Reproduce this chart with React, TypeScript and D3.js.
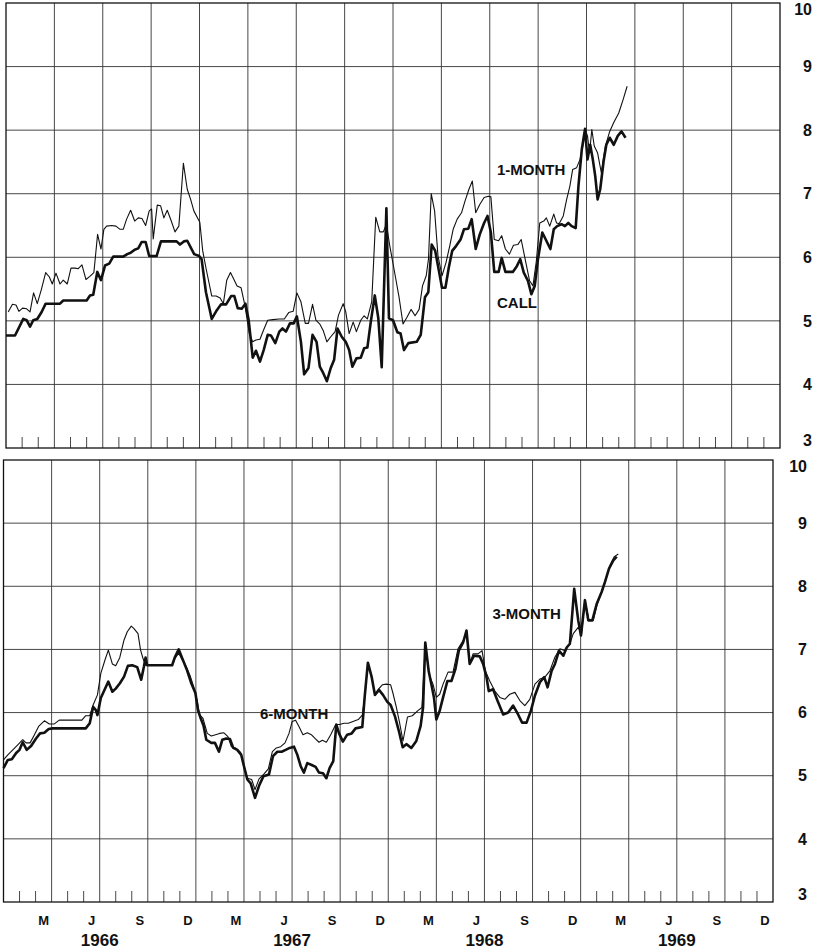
import React from "react";
import * as d3 from "d3";

// x = months since Jan 1966, y = percent
const oneMonth: [number, number][] = [
  [0.14, 5.14], [0.4, 5.26], [0.62, 5.25], [0.8, 5.15], [1.03, 5.2], [1.28, 5.19], [1.49, 5.14], [1.71, 5.44],
  [1.94, 5.27], [2.2, 5.5], [2.46, 5.76], [2.69, 5.69], [2.87, 5.58], [3.1, 5.75], [3.35, 5.58], [3.55, 5.64],
  [3.8, 5.58], [4.03, 5.83], [4.28, 5.83], [4.48, 5.82], [4.71, 5.88], [4.96, 5.65], [5.2, 5.7], [5.45, 5.76],
  [5.68, 6.36], [5.89, 6.13], [6.07, 6.44], [6.24, 6.49], [6.55, 6.5], [6.82, 6.49], [7.07, 6.44], [7.27, 6.44],
  [7.48, 6.6], [7.73, 6.74], [7.98, 6.57], [8.2, 6.62], [8.43, 6.61], [8.66, 6.5], [8.88, 6.73], [9.03, 6.76],
  [9.13, 6.29], [9.38, 6.82], [9.59, 6.81], [9.79, 6.62], [10.0, 6.74], [10.25, 6.57], [10.48, 6.4], [10.72, 6.49],
  [11.0, 7.48], [11.24, 7.07], [11.45, 6.91], [11.65, 6.73], [11.92, 6.6], [12.02, 6.55], [12.2, 6.1], [12.41, 5.82],
  [12.76, 5.39], [13.03, 5.39], [13.28, 5.36], [13.48, 5.27], [13.69, 5.64], [13.92, 5.76], [14.12, 5.66], [14.33, 5.55],
  [14.58, 5.52], [14.82, 5.24], [15.09, 4.8], [15.3, 4.67], [15.5, 4.7], [15.75, 4.71], [15.98, 4.86], [16.23, 5.01],
  [16.54, 5.02], [16.95, 5.03], [17.26, 5.03], [17.53, 5.13], [17.81, 5.15], [18.04, 5.44], [18.29, 5.3], [18.56, 4.96],
  [18.76, 4.96], [19.01, 5.26], [19.22, 5.01], [19.46, 4.95], [19.67, 4.85], [19.9, 4.67], [20.14, 4.75], [20.41, 4.83],
  [20.62, 5.09], [20.91, 5.27], [21.07, 5.14], [21.28, 4.8], [21.53, 4.98], [21.73, 4.83], [22.0, 5.01], [22.21, 5.08],
  [22.41, 5.03], [22.68, 5.3], [22.93, 6.63], [23.18, 6.4], [23.4, 6.4], [23.59, 6.52], [23.8, 6.18], [24.06, 5.82],
  [24.37, 5.38], [24.62, 4.95], [24.85, 5.05], [25.12, 5.18], [25.37, 5.08], [25.62, 5.18], [25.83, 5.55], [26.06, 5.71],
  [26.2, 5.97], [26.37, 7.0], [26.58, 6.73], [26.79, 6.02], [27.04, 5.71], [27.29, 5.92], [27.52, 6.18], [27.73, 6.44],
  [27.98, 6.6], [28.25, 6.7], [28.46, 6.88], [28.71, 7.07], [28.92, 7.2], [29.13, 6.7], [29.38, 6.83], [29.65, 6.94],
  [29.92, 6.96], [30.07, 6.95], [30.28, 6.28], [30.55, 6.26], [30.74, 6.34], [30.97, 6.13], [31.22, 6.05], [31.47, 6.19],
  [31.74, 6.2], [31.95, 6.28], [32.22, 5.94], [32.47, 5.63], [32.68, 5.55], [32.89, 5.94], [33.1, 6.54], [33.35, 6.57],
  [33.51, 6.62], [33.72, 6.49], [33.97, 6.68], [34.14, 6.54], [34.31, 6.53], [34.56, 6.65], [34.77, 6.91], [34.97, 7.12],
  [35.14, 7.38], [35.39, 7.41], [35.6, 7.54], [35.77, 7.75], [35.91, 8.02], [36.06, 7.91], [36.19, 7.64], [36.33, 8.01],
  [36.48, 7.75], [36.69, 7.64], [36.92, 7.33], [37.17, 7.75], [37.44, 7.98], [37.69, 8.12], [38.0, 8.27], [38.27, 8.48],
  [38.52, 8.69],
];

const callRate: [number, number][] = [
  [0, 4.77], [0.56, 4.77], [1.07, 5.03], [1.28, 5.01], [1.49, 4.91], [1.69, 5.01], [1.94, 5.03], [2.21, 5.14],
  [2.46, 5.27], [3.35, 5.27], [3.55, 5.32], [5.0, 5.32], [5.21, 5.4], [5.41, 5.41], [5.66, 5.77], [5.89, 5.64],
  [6.14, 5.87], [6.4, 5.9], [6.65, 6.01], [7.27, 6.01], [7.52, 6.05], [7.73, 6.07], [7.98, 6.12], [8.2, 6.14],
  [8.41, 6.24], [8.66, 6.24], [8.88, 6.02], [9.34, 6.02], [9.61, 6.25], [10.58, 6.25], [10.79, 6.2], [11.03, 6.25],
  [11.24, 6.26], [11.67, 6.05], [11.98, 6.02], [12.13, 5.97], [12.4, 5.45], [12.76, 5.03], [13.03, 5.15], [13.34, 5.26],
  [13.65, 5.26], [13.96, 5.39], [14.16, 5.39], [14.37, 5.2], [14.62, 5.19], [14.85, 5.27], [15.05, 5.01], [15.3, 4.42],
  [15.5, 4.53], [15.75, 4.36], [15.98, 4.54], [16.23, 4.78], [16.43, 4.77], [16.7, 4.65], [16.95, 4.83], [17.15, 4.88],
  [17.36, 4.83], [17.61, 4.96], [17.84, 4.96], [18.04, 5.07], [18.29, 4.67], [18.49, 4.16], [18.76, 4.26], [19.01, 4.78],
  [19.26, 4.67], [19.46, 4.28], [19.67, 4.18], [19.9, 4.05], [20.14, 4.26], [20.35, 4.39], [20.56, 4.88], [20.82, 4.75],
  [21.07, 4.67], [21.28, 4.54], [21.48, 4.28], [21.73, 4.41], [22.0, 4.42], [22.21, 4.57], [22.41, 4.58], [22.62, 4.98],
  [22.87, 5.4], [23.09, 5.04], [23.3, 4.27], [23.59, 6.77], [23.75, 5.04], [24.0, 5.01], [24.27, 4.82], [24.47, 4.8],
  [24.68, 4.54], [24.95, 4.65], [25.47, 4.67], [25.72, 4.78], [25.98, 5.37], [26.19, 5.45], [26.4, 6.2], [26.62, 6.1],
  [26.83, 5.81], [27.04, 5.52], [27.25, 5.52], [27.46, 5.84], [27.67, 6.1], [27.92, 6.18], [28.19, 6.28], [28.4, 6.44],
  [28.67, 6.45], [28.88, 6.6], [29.13, 6.13], [29.38, 6.36], [29.65, 6.54], [29.86, 6.65], [30.07, 6.39], [30.28, 5.77],
  [30.55, 5.77], [30.74, 5.99], [30.97, 5.77], [31.43, 5.77], [31.68, 5.86], [31.89, 5.97], [32.11, 5.76], [32.37, 5.63],
  [32.58, 5.42], [32.79, 5.55], [32.99, 5.97], [33.26, 6.39], [33.51, 6.26], [33.76, 6.13], [33.97, 6.44], [34.18, 6.49],
  [34.45, 6.52], [34.66, 6.49], [34.87, 6.54], [35.08, 6.49], [35.33, 6.46], [35.5, 7.12], [35.71, 7.7], [35.91, 8.02],
  [36.06, 7.54], [36.23, 7.77], [36.39, 7.54], [36.54, 7.28], [36.69, 6.91], [36.85, 7.07], [37.06, 7.51], [37.23, 7.77],
  [37.44, 7.88], [37.69, 7.77], [37.94, 7.91], [38.17, 7.98], [38.42, 7.88],
];

const threeMonth: [number, number][] = [
  [0, 5.25], [0.27, 5.33], [0.58, 5.41], [0.89, 5.49], [1.2, 5.57], [1.41, 5.52], [1.66, 5.52], [1.93, 5.65],
  [2.19, 5.78], [2.55, 5.87], [2.86, 5.82], [3.17, 5.82], [3.48, 5.88], [4.89, 5.88], [5.13, 5.95], [5.38, 5.95],
  [5.59, 6.12], [5.86, 6.28], [6.07, 6.62], [6.34, 6.84], [6.54, 6.99], [6.79, 6.77], [7.0, 6.74], [7.25, 6.87],
  [7.52, 7.15], [7.72, 7.28], [7.97, 7.37], [8.14, 7.33], [8.39, 7.25], [8.55, 6.99], [8.7, 6.86], [8.86, 6.75],
  [10.52, 6.75], [10.72, 6.87], [10.93, 6.94], [11.14, 6.84], [11.39, 6.73], [11.66, 6.57], [11.86, 6.41], [12.07, 6.2],
  [12.24, 5.96], [12.44, 5.91], [12.71, 5.67], [12.96, 5.63], [13.23, 5.65], [13.48, 5.67], [13.75, 5.68], [14.0, 5.62],
  [14.21, 5.46], [14.48, 5.44], [14.79, 5.37], [15.0, 5.15], [15.21, 4.96], [15.48, 4.94], [15.69, 4.78], [15.94, 4.95],
  [16.25, 5.03], [16.52, 5.11], [16.77, 5.38], [17.02, 5.44], [17.29, 5.46], [17.56, 5.52], [17.81, 5.67], [18.01, 5.86],
  [18.22, 5.88], [18.43, 5.78], [18.68, 5.65], [18.95, 5.68], [19.2, 5.65], [19.43, 5.59], [19.68, 5.53], [19.89, 5.56],
  [20.14, 5.53], [20.41, 5.65], [20.72, 5.81], [20.97, 5.81], [21.24, 5.83], [21.51, 5.83], [21.8, 5.86], [22.13, 5.89],
  [22.38, 5.96], [22.55, 6.28], [22.73, 6.79], [22.96, 6.57], [23.17, 6.28], [23.42, 6.38], [23.63, 6.44], [23.88, 6.45],
  [24.15, 6.44], [24.29, 6.31], [24.5, 6.09], [24.7, 5.85], [24.92, 5.55], [25.2, 5.93], [25.5, 5.95], [25.85, 6.03],
  [26.1, 6.08], [26.31, 7.06], [26.58, 6.58], [26.79, 6.45], [27.0, 6.24], [27.21, 6.29], [27.42, 6.45], [27.73, 6.64],
  [28.04, 6.64], [28.35, 7.01], [28.67, 7.14], [28.88, 7.25], [29.08, 6.77], [29.29, 6.93], [29.6, 6.93], [29.85, 6.98],
  [30.06, 6.66], [30.33, 6.5], [30.65, 6.34], [30.96, 6.24], [31.27, 6.21], [31.58, 6.29], [31.9, 6.32], [32.21, 6.19],
  [32.52, 6.11], [32.83, 6.21], [33.15, 6.45], [33.46, 6.53], [33.77, 6.56], [34.08, 6.66], [34.4, 6.88], [34.71, 7.01],
  [35.02, 6.98], [35.33, 7.09], [35.54, 7.25], [35.85, 7.35], [36.06, 7.25], [36.27, 7.78], [36.52, 7.46], [36.79, 7.46],
  [37.04, 7.72], [37.31, 7.91], [37.56, 8.1], [37.83, 8.33], [38.1, 8.47], [38.35, 8.51],
];

const sixMonth: [number, number][] = [
  [0, 5.12], [0.27, 5.25], [0.52, 5.26], [0.79, 5.36], [1.0, 5.41], [1.2, 5.53], [1.45, 5.41], [1.72, 5.47],
  [2.03, 5.59], [2.28, 5.67], [2.55, 5.68], [2.82, 5.74], [3.06, 5.75], [5.13, 5.75], [5.38, 5.83], [5.59, 6.09],
  [5.76, 6.04], [5.86, 5.96], [6.07, 6.23], [6.34, 6.38], [6.54, 6.49], [6.79, 6.33], [7.0, 6.38], [7.25, 6.46],
  [7.52, 6.57], [7.76, 6.74], [8.03, 6.75], [8.34, 6.72], [8.59, 6.52], [8.76, 6.73], [8.86, 6.87], [8.96, 6.75],
  [10.52, 6.75], [10.68, 6.87], [10.93, 7.0], [11.18, 6.84], [11.45, 6.67], [11.72, 6.46], [11.97, 6.31], [12.13, 6.04],
  [12.3, 5.91], [12.48, 5.79], [12.65, 5.57], [12.96, 5.52], [13.19, 5.52], [13.44, 5.38], [13.65, 5.57], [13.9, 5.59],
  [14.13, 5.58], [14.33, 5.44], [14.58, 5.41], [14.83, 5.33], [15.0, 5.15], [15.21, 4.94], [15.42, 4.88], [15.69, 4.65],
  [15.94, 4.84], [16.21, 4.99], [16.56, 5.02], [16.81, 5.31], [17.08, 5.38], [17.35, 5.38], [17.6, 5.41], [17.85, 5.44],
  [18.12, 5.46], [18.33, 5.33], [18.54, 5.15], [18.74, 5.05], [18.95, 5.2], [19.22, 5.17], [19.47, 5.14], [19.68, 5.05],
  [19.93, 5.04], [20.14, 4.96], [20.34, 5.12], [20.57, 5.23], [20.76, 5.81], [20.93, 5.67], [21.17, 5.54], [21.44, 5.65],
  [21.72, 5.67], [21.96, 5.75], [22.38, 5.77], [22.53, 6.25], [22.73, 6.79], [22.96, 6.57], [23.17, 6.28], [23.42, 6.36],
  [23.67, 6.28], [23.94, 6.17], [24.15, 6.12], [24.42, 5.94], [24.67, 5.7], [24.9, 5.45], [25.13, 5.5], [25.44, 5.44],
  [25.75, 5.55], [26.02, 5.79], [26.17, 6.08], [26.31, 7.11], [26.52, 6.66], [26.69, 6.45], [26.85, 6.24], [27.0, 5.89],
  [27.21, 6.03], [27.42, 6.24], [27.69, 6.5], [27.94, 6.5], [28.19, 6.69], [28.4, 6.98], [28.67, 7.11], [28.88, 7.3],
  [29.08, 6.77], [29.35, 6.9], [29.71, 6.89], [29.92, 6.77], [30.13, 6.56], [30.27, 6.34], [30.54, 6.37], [30.81, 6.19],
  [31.17, 5.97], [31.48, 6.0], [31.79, 6.11], [32.1, 5.97], [32.35, 5.84], [32.63, 5.84], [32.9, 6.03], [33.15, 6.27],
  [33.46, 6.48], [33.73, 6.56], [33.94, 6.4], [34.19, 6.66], [34.4, 6.77], [34.65, 6.98], [34.92, 6.9], [35.13, 7.03],
  [35.33, 7.09], [35.6, 7.96], [35.85, 7.46], [36.02, 7.22], [36.27, 7.78], [36.48, 7.46], [36.73, 7.46], [37.0, 7.72],
  [37.31, 7.91], [37.52, 8.07], [37.77, 8.28], [38.04, 8.41], [38.25, 8.47],
];

const yTicks = [3, 4, 5, 6, 7, 8, 9, 10];
const monthLabels = ["M", "J", "S", "D"];
const years = ["1966", "1967", "1968", "1969"];

const FONT = "'Liberation Sans', Arial, sans-serif";
const INK = "#111";

type PanelProps = {
  x0: number; x1: number; y0: number; y1: number;
  thin: [number, number][]; thick: [number, number][];
  labels: { text: string; m: number; v: number }[];
  labelRight: number;
  showMonths?: boolean;
};

function Panel({ x0, x1, y0, y1, thin, thick, labels, labelRight, showMonths }: PanelProps) {
  const x = d3.scaleLinear().domain([0, 48]).range([x0, x1]);
  const y = d3.scaleLinear().domain([3, 10]).range([y1, y0]);
  const line = d3.line<[number, number]>().x((d) => x(d[0])).y((d) => y(d[1]));
  const months = d3.range(1, 48);
  const quarters = d3.range(3, 48, 3);
  return (
    <g>
      {yTicks.slice(1, -1).map((t) => (
        <line key={"h" + t} x1={x0} x2={x1} y1={y(t)} y2={y(t)} stroke="#333" strokeWidth={0.9} />
      ))}
      {quarters.map((q) => (
        <line key={"v" + q} x1={x(q)} x2={x(q)} y1={y0} y2={y1} stroke="#333" strokeWidth={0.9} />
      ))}
      {months.filter((m) => m % 3 !== 0).map((m) => (
        <line key={"t" + m} x1={x(m)} x2={x(m)} y1={y1} y2={y1 - 11} stroke="#333" strokeWidth={0.9} />
      ))}
      <rect x={x0} y={y0} width={x1 - x0} height={y1 - y0} fill="none" stroke={INK} strokeWidth={1.3} />
      <path d={line(thin) || ""} fill="none" stroke={INK} strokeWidth={1.1} strokeLinejoin="round" />
      <path d={line(thick) || ""} fill="none" stroke={INK} strokeWidth={2.6} strokeLinejoin="round" />
      {labels.map((l) => (
        <text key={l.text} x={x(l.m)} y={y(l.v)} fontFamily={FONT} fontWeight="bold" fontSize={15} fill={INK}>
          {l.text}
        </text>
      ))}
      {yTicks.map((t) => {
        const ty = t === 10 ? y(t) + 6 : t === 3 ? y(t) - 8 : y(t);
        return (
          <text key={"l" + t} x={labelRight} y={ty} dy="0.36em" textAnchor="end" fontFamily={FONT} fontWeight="bold" fontSize={16} fill={INK}>
            {t}
          </text>
        );
      })}
      {showMonths && (
        <g>
          {d3.range(16).map((i) => (
            <text key={"m" + i} x={x(i * 3 + 2.5)} y={y1 + 18} dy="0.36em" textAnchor="middle" fontFamily={FONT} fontWeight="bold" fontSize={13} fill={INK}>
              {monthLabels[i % 4]}
            </text>
          ))}
          {years.map((yr, i) => (
            <text key={yr} x={x(i * 12 + 6)} y={y1 + 38} dy="0.36em" textAnchor="middle" fontFamily={FONT} fontWeight="bold" fontSize={17} fill={INK}>
              {yr}
            </text>
          ))}
        </g>
      )}
    </g>
  );
}

export default function App() {
  return (
    <svg width={820} height={951} viewBox="0 0 820 951" style={{ position: "absolute", left: 0, top: 0, background: "#fff" }}>
      <rect width={820} height={951} fill="#fff" />
      <Panel
        x0={6} x1={780} y0={3} y1={448}
        thin={oneMonth} thick={callRate}
        labels={[{ text: "1-MONTH", m: 30.45, v: 7.3 }, { text: "CALL", m: 30.45, v: 5.2 }]}
        labelRight={812}
      />
      <Panel
        x0={3.5} x1={773} y0={460} y1={902}
        thin={threeMonth} thick={sixMonth}
        labels={[{ text: "3-MONTH", m: 30.5, v: 7.48 }, { text: "6-MONTH", m: 16.0, v: 5.9 }]}
        labelRight={807}
        showMonths
      />
    </svg>
  );
}
